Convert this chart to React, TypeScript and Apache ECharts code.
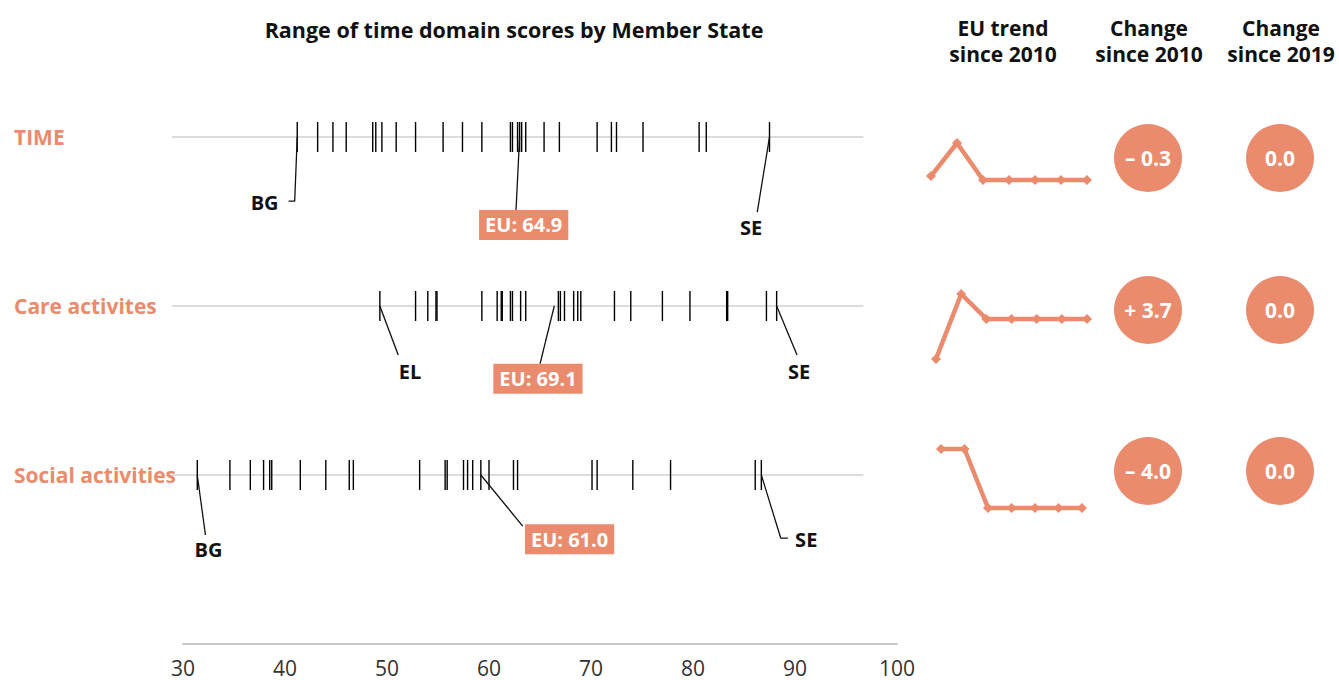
import React, { useEffect, useRef } from 'react';
import * as echarts from 'echarts';

// ---------------- DATA ----------------
const rowNames = ['TIME', 'Care activites', 'Social activities'];

const timeScores = [41.2, 43.2, 44.7, 46.0, 48.6, 48.9, 49.5, 50.9, 52.8, 55.5, 57.4, 59.3, 62.1, 62.3, 62.8, 63.0, 63.2, 63.6, 65.4, 66.9, 70.6, 72.0, 72.5, 75.1, 80.6, 81.3, 87.5];
const careScores = [49.3, 52.8, 54.0, 54.8, 54.9, 59.3, 60.8, 61.2, 61.3, 62.1, 62.3, 63.1, 63.6, 66.8, 67.0, 67.4, 68.3, 68.7, 69.0, 72.3, 73.9, 77.0, 79.7, 83.3, 83.4, 87.2, 88.2];
const socialScores = [31.4, 34.6, 36.6, 37.9, 38.5, 38.7, 41.5, 44.0, 46.3, 46.7, 53.2, 55.7, 55.9, 57.5, 57.9, 58.4, 59.2, 60.0, 62.4, 62.8, 70.1, 70.6, 74.1, 77.8, 86.1, 86.7];
const rowScores = [timeScores, careScores, socialScores];

const euScores = [64.9, 69.1, 61.0];
const lowStates = ['BG', 'EL', 'BG'];
const highStates = ['SE', 'SE', 'SE'];

const axisValues = [30, 40, 50, 60, 70, 80, 90, 100];

const trendYears = ['2010', '2012', '2015', '2017', '2018', '2019', '2020'];
const timeTrend = [65.2, 67.7, 64.9, 64.9, 64.9, 64.9, 64.9];
const careTrend = [65.4, 71.4, 69.1, 69.1, 69.1, 69.1, 69.1];
const socialTrend = [65.0, 65.0, 61.0, 61.0, 61.0, 61.0, 61.0];
const trends = [timeTrend, careTrend, socialTrend];

const changeKeys = ['since 2010', 'since 2019'];
const change2010 = [-0.3, 3.7, -4.0];
const change2019 = [0.0, 0.0, 0.0];

// ---------------- LAYOUT / STYLE ----------------
const SALMON = '#EA8B6D';
const FONT = '"Open Sans", "Noto Sans", sans-serif';
const AXIS_LEFT = 183;
const AXIS_WIDTH = 714;
const PLOT_TOP = 137;
const PLOT_HEIGHT = 507;
const stripExtent = [28.92, 96.7];

// annotation offsets: [dx in score units, dy in row units]
const labelLayout = [
  {
    low: { path: [[-0.25, 0.38], [-0.85, 0.38]], text: [-3.2, 0.385] },
    high: { path: [[-1.2, 0.444]], text: [-1.8, 0.533] },
    eu: { pointer: 63.0, path: [[-0.35, 0.432]], box: [0.4, 0.52] },
  },
  {
    low: { path: [[1.8, 0.29]], text: [2.95, 0.385] },
    high: { path: [[2.0, 0.29]], text: [2.2, 0.385] },
    eu: { pointer: 66.4, path: [[-1.4, 0.343]], box: [-1.6, 0.43] },
  },
  {
    low: { path: [[0.8, 0.355]], text: [1.1, 0.438] },
    high: { path: [[1.9, 0.373], [2.6, 0.373]], text: [4.4, 0.38] },
    eu: { pointer: 59.2, path: [[4.1, 0.302]], box: [8.7, 0.38] },
  },
];

const sparkLayout = [
  { left: 931, width: 156, top: 143, height: 37 },
  { left: 936, width: 151, top: 294, height: 65 },
  { left: 941, width: 141, top: 449, height: 59 },
];
const circleRowY = [158, 310, 471];
const circleX = { left: 1148, width: 132 };

const fmtChange = (v: number) => (v < 0 ? '– ' + Math.abs(v).toFixed(1) : v > 0 ? '+ ' + v.toFixed(1) : '0.0');

const plainLabel = { textBorderWidth: 0, textBorderColor: 'transparent', textShadowBlur: 0 };

export default function App() {
  const ref = useRef<HTMLDivElement>(null);

  useEffect(() => {
    if (!ref.current) return;
    const chart = echarts.init(ref.current, undefined, { renderer: 'svg' });

    const axisMin = axisValues[0];
    const axisMax = axisValues[axisValues.length - 1];
    const pxPerUnit = AXIS_WIDTH / (axisMax - axisMin);
    const stripLeft = AXIS_LEFT - (axisMin - stripExtent[0]) * pxPerUnit;

    const grid: any[] = [
      { left: AXIS_LEFT, width: AXIS_WIDTH, top: PLOT_TOP, height: PLOT_HEIGHT },
      { left: stripLeft, width: AXIS_LEFT + AXIS_WIDTH - stripLeft, top: PLOT_TOP, height: PLOT_HEIGHT },
    ];
    const xAxis: any[] = [
      {
        gridIndex: 0,
        type: 'value',
        min: axisMin,
        max: axisMax,
        interval: axisValues[1] - axisValues[0],
        axisLine: { show: true, onZero: false, lineStyle: { color: '#c8c8c8', width: 2 } },
        axisTick: { show: false },
        splitLine: { show: false },
        axisLabel: { fontSize: 21, color: '#333', margin: 13, fontFamily: FONT },
      },
      {
        gridIndex: 1,
        type: 'value',
        min: stripExtent[0],
        max: axisMax,
        show: false,
        splitLine: { show: false },
      },
    ];
    const yAxis: any[] = [
      { gridIndex: 0, type: 'value', min: 0, max: 3, inverse: true, show: false, splitLine: { show: false } },
      {
        gridIndex: 1,
        type: 'value',
        min: 0,
        max: 3,
        interval: 1,
        inverse: true,
        axisLine: { show: false },
        axisTick: { show: false },
        splitLine: { show: false },
        axisLabel: {
          margin: stripLeft - 14,
          align: 'left',
          fontSize: 21,
          fontWeight: 'bold',
          color: SALMON,
          fontFamily: FONT,
          formatter: (v: number) => rowNames[v] ?? '',
        },
      },
    ];
    const series: any[] = [];

    // strips
    rowNames.forEach((_, i) => {
      const scores = rowScores[i];
      const lo = Math.min(...scores);
      const hi = Math.max(...scores);
      const L = labelLayout[i];
      const ax = { xAxisIndex: 1, yAxisIndex: 1 };

      series.push({
        type: 'line',
        ...ax,
        data: stripExtent.map((v) => [v, i]),
        symbol: 'none',
        clip: false,
        silent: true,
        lineStyle: { color: '#d0d0d0', width: 1.5 },
        z: 1,
      });
      series.push({
        type: 'scatter',
        ...ax,
        data: scores.map((v) => [v, i]),
        symbol: 'rect',
        symbolSize: [1.4, 30],
        itemStyle: { color: '#000', opacity: 1 },
        silent: true,
        z: 3,
      });
      const leader = (x0: number, pts: number[][]) => ({
        type: 'line',
        ...ax,
        data: [[x0, i], ...pts.map(([dx, dy]) => [x0 + dx, i + dy])],
        symbol: 'none',
        clip: false,
        silent: true,
        lineStyle: { color: '#111', width: 1.3 },
        z: 4,
      });
      series.push(leader(lo, L.low.path), leader(hi, L.high.path), leader(L.eu.pointer, L.eu.path));

      series.push({
        type: 'scatter',
        ...ax,
        symbolSize: 1,
        itemStyle: { color: 'rgba(0,0,0,0)', opacity: 1 },
        silent: true,
        data: [
          { value: [lo + L.low.text[0], i + L.low.text[1]], label: { formatter: lowStates[i] } },
          { value: [hi + L.high.text[0], i + L.high.text[1]], label: { formatter: highStates[i] } },
        ],
        label: { show: true, position: 'inside', color: '#111', fontWeight: 'bold', fontSize: 20, fontFamily: FONT, ...plainLabel },
        z: 5,
      });
      series.push({
        type: 'scatter',
        ...ax,
        symbolSize: 1,
        itemStyle: { color: 'rgba(0,0,0,0)', opacity: 1 },
        silent: true,
        data: [[L.eu.pointer + L.eu.box[0], i + L.eu.box[1]]],
        label: {
          show: true,
          position: 'inside',
          formatter: 'EU: ' + euScores[i].toFixed(1),
          backgroundColor: SALMON,
          padding: [4, 6, 3, 6],
          color: '#fff',
          fontWeight: 'bold',
          fontSize: 20,
          lineHeight: 23,
          fontFamily: FONT,
          ...plainLabel,
        },
        z: 6,
      });
    });

    // sparklines
    rowNames.forEach((_, i) => {
      const gi = grid.length;
      const tr = trends[i];
      grid.push({ ...sparkLayout[i] });
      xAxis.push({ gridIndex: gi, type: 'category', data: trendYears, boundaryGap: false, show: false });
      yAxis.push({ gridIndex: gi, type: 'value', min: Math.min(...tr), max: Math.max(...tr), show: false, splitLine: { show: false } });
      series.push({
        type: 'line',
        xAxisIndex: gi,
        yAxisIndex: gi,
        data: tr,
        clip: false,
        symbol: 'diamond',
        symbolSize: 10,
        lineStyle: { color: SALMON, width: 4.5 },
        itemStyle: { color: SALMON, opacity: 1 },
        silent: true,
      });
    });

    // change circles
    rowNames.forEach((_, i) => {
      const ci = grid.length;
      grid.push({ left: circleX.left, width: circleX.width, top: circleRowY[i] - 10, height: 20 });
      xAxis.push({ gridIndex: ci, type: 'category', data: changeKeys, boundaryGap: false, show: false });
      yAxis.push({ gridIndex: ci, type: 'value', min: -1, max: 1, show: false, splitLine: { show: false } });
      series.push({
        type: 'scatter',
        xAxisIndex: ci,
        yAxisIndex: ci,
        data: [
          [0, 0, change2010[i]],
          [1, 0, change2019[i]],
        ],
        clip: false,
        symbolSize: 68,
        itemStyle: { color: SALMON, opacity: 1 },
        silent: true,
        label: {
          show: true,
          position: 'inside',
          color: '#fff',
          fontWeight: 'bold',
          fontSize: 21,
          fontFamily: FONT,
          ...plainLabel,
          formatter: (p: any) => fmtChange(p.value[2]),
        },
      });
    });

    const header = (text: string, x: number, y: number, size: number) => ({
      type: 'text',
      x,
      y,
      silent: true,
      style: {
        text,
        fill: '#111',
        font: `bold ${size}px ${FONT}`,
        fontSize: size,
        fontWeight: 'bold',
        fontFamily: FONT,
        lineHeight: 26,
        align: 'center',
        textAlign: 'center',
        verticalAlign: 'top',
        textVerticalAlign: 'top',
      },
    });

    chart.setOption({
      animation: false,
      backgroundColor: '#fff',
      grid,
      xAxis,
      yAxis,
      series,
      graphic: [
        header('Range of time domain scores by Member State', 514, 16, 21.5),
        header('EU trend\nsince 2010', 1003, 15, 21),
        header('Change\nsince 2010', 1149, 15, 21),
        header('Change\nsince 2019', 1281, 15, 21),
      ],
    });

    return () => chart.dispose();
  }, []);

  return <div ref={ref} style={{ position: 'absolute', left: 0, top: 0, width: 1339, height: 680 }} />;
}
